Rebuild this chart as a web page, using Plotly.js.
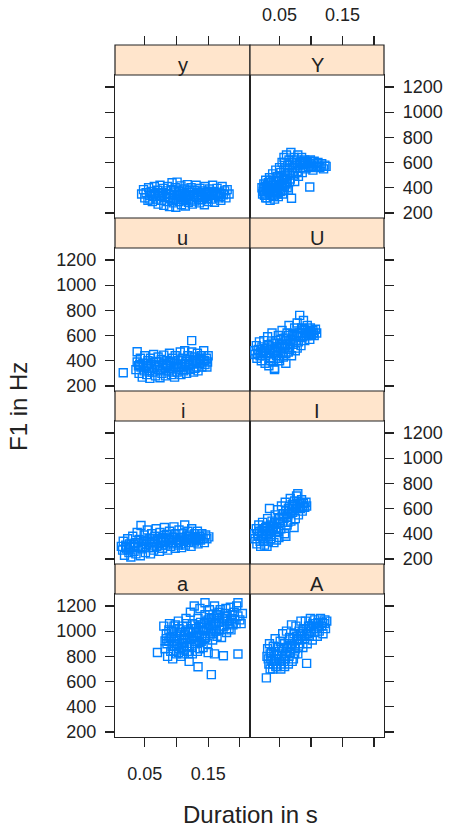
<!DOCTYPE html>
<html>
<head>
<meta charset="utf-8">
<script src="https://cdn.plot.ly/plotly-3.0.1.min.js"></script>
<style>html,body{margin:0;padding:0;background:#fff;}#chart{width:453px;height:828px;}</style>
</head>
<body>
<div id="chart"></div>
<script>
// ---------- data ----------
const panelNames = ["y", "Y", "u", "U", "i", "I", "a", "A"];
const xTickVals = [0.05, 0.10, 0.15, 0.20];
const xTickText = ["0.05", "", "0.15", ""];
const yTickVals = [200, 400, 600, 800, 1000, 1200];
const yTickText = ["200", "400", "600", "800", "1000", "1200"];

const dur_y = [0.045,0.048,0.050,0.052,0.055,0.056,0.058,0.060,0.062,0.063,0.065,0.066,0.068,0.070,0.071,0.073,0.074,0.076,0.078,0.079,0.080,0.082,0.083,0.085,0.086,0.088,0.089,0.090,0.092,0.093,0.095,0.096,0.098,0.099,0.100,0.101,0.103,0.104,0.106,0.107,0.108,0.110,0.111,0.113,0.114,0.116,0.117,0.119,0.120,0.122,0.123,0.125,0.126,0.128,0.129,0.131,0.132,0.134,0.136,0.137,0.139,0.140,0.142,0.144,0.145,0.147,0.148,0.150,0.152,0.153,0.155,0.157,0.158,0.160,0.162,0.164,0.166,0.168,0.170,0.172,0.174,0.176,0.178,0.180,0.183,
  0.061,0.067,0.072,0.077,0.084,0.087,0.091,0.097,0.102,0.105,0.109,0.112,0.118,0.121,0.127,0.133,0.138,0.141,0.146,0.151,0.156,0.161,0.165,0.171,0.058,0.094,0.115,0.135,0.149,0.169];
const f1_y  = [350,385,320,360,300,400,340,370,290,330,410,355,310,380,270,340,420,300,360,395,260,330,375,290,410,350,250,315,385,440,280,345,400,245,320,445,370,290,340,415,265,355,305,390,255,330,425,285,365,310,400,270,345,380,295,420,325,360,280,395,340,305,375,265,410,330,360,290,390,345,310,420,370,285,340,395,320,365,300,410,345,375,320,385,350,
  350,330,360,340,355,325,345,365,335,375,320,350,340,380,330,345,365,325,350,370,340,360,345,355,310,300,300,310,315,330];

const dur_Y = [0.022,0.024,0.025,0.026,0.028,0.029,0.030,0.031,0.033,0.034,0.035,0.036,0.037,0.038,0.039,0.040,0.041,0.042,0.043,0.044,0.045,0.046,0.047,0.048,0.049,0.050,0.051,0.052,0.053,0.054,0.055,0.056,0.057,0.058,0.059,0.060,0.061,0.062,0.063,0.064,0.065,0.066,0.067,0.068,0.069,0.070,0.071,0.072,0.073,0.074,0.075,0.077,0.078,0.079,0.080,0.082,0.083,0.085,0.086,0.088,0.090,0.092,0.094,0.096,0.098,0.099,0.101,0.103,0.105,0.108,0.111,0.114,0.117,0.120,0.124,
  0.023,0.025,0.027,0.028,0.030,0.032,0.033,0.035,0.036,0.038,0.040,0.041,0.043,0.044,0.046,0.047,0.049,0.050,0.052,0.053,0.055,0.057,0.058,0.060,0.062,0.063,0.066,0.058,0.062,0.066,0.070,0.074,0.076,0.081,0.084,0.087,0.091,0.095,0.100,0.104,0.110,0.116,0.122];
const f1_Y  = [400,370,430,340,460,390,320,420,360,480,300,400,440,340,510,380,460,310,420,540,360,490,400,330,450,560,380,520,430,600,350,470,640,410,550,500,660,440,580,380,620,520,470,680,317,560,600,500,640,450,580,620,530,660,490,600,560,640,520,590,620,550,600,570,406,620,580,540,610,570,600,560,590,550,570,
  350,390,410,320,380,440,400,350,460,420,330,400,370,450,420,350,480,410,370,460,420,380,470,430,400,500,450,600,540,580,520,600,560,580,610,560,590,610,560,590,580,570,580];

const dur_u = [0.016,0.038,0.124,0.036,0.038,0.040,0.041,0.043,0.044,0.046,0.047,0.049,0.050,0.052,0.053,0.055,0.056,0.058,0.059,0.061,0.062,0.064,0.065,0.067,0.068,0.070,0.071,0.073,0.074,0.076,0.077,0.079,0.080,0.082,0.083,0.085,0.086,0.088,0.089,0.091,0.092,0.094,0.095,0.097,0.098,0.100,0.101,0.103,0.104,0.106,0.107,0.109,0.110,0.112,0.113,0.115,0.116,0.118,0.119,0.121,0.122,0.124,0.125,0.127,0.128,0.130,0.131,0.133,0.134,0.136,0.137,0.139,0.140,0.142,0.143,0.145,0.147,0.149,0.150,0.148,
  0.042,0.048,0.054,0.060,0.066,0.072,0.078,0.084,0.090,0.096,0.102,0.108,0.114,0.120,0.126,0.132,0.138,0.144,0.057,0.075,0.093,0.111,0.129];
const f1_u  = [305,471,560,330,390,360,300,420,350,270,380,320,440,360,290,400,340,260,420,370,310,450,350,280,395,330,430,360,265,410,300,375,445,340,280,400,360,320,460,385,290,420,350,270,440,375,310,400,345,470,290,420,370,330,480,395,300,440,360,410,330,470,380,310,430,400,350,460,320,420,380,440,350,400,480,370,420,390,440,350,
  370,350,380,340,365,390,350,370,340,390,365,350,380,370,400,390,410,400,310,320,310,320,340];

const dur_U = [0.010,0.011,0.013,0.014,0.016,0.018,0.019,0.021,0.022,0.024,0.025,0.027,0.028,0.030,0.031,0.033,0.034,0.035,0.037,0.038,0.040,0.041,0.042,0.044,0.045,0.047,0.048,0.050,0.051,0.053,0.054,0.056,0.057,0.059,0.060,0.062,0.063,0.065,0.066,0.068,0.069,0.071,0.072,0.074,0.075,0.077,0.078,0.080,0.081,0.082,0.084,0.085,0.087,0.088,0.090,0.091,0.093,0.094,0.096,0.098,0.099,0.101,0.103,0.105,0.107,0.109,0.042,0.060,0.078,
  0.015,0.020,0.026,0.029,0.032,0.036,0.039,0.043,0.046,0.049,0.052,0.055,0.058,0.061,0.064,0.067,0.070,0.073,0.076,0.079,0.083,0.086,0.089,0.092,0.095,0.097,0.100,0.104,0.036,0.048,0.054,0.064];
const f1_U  = [480,450,520,420,490,550,440,400,510,470,560,380,440,500,590,360,460,420,540,620,390,480,340,560,440,510,600,400,470,540,640,430,500,580,460,620,530,680,490,570,440,610,530,660,480,590,700,550,620,760,520,660,590,720,560,640,600,680,620,570,660,610,640,600,650,620,330,380,500,
  460,470,480,460,520,490,510,470,540,500,570,530,510,560,600,540,580,600,560,620,600,620,650,620,640,600,630,620,400,420,460,470];

const dur_i = [0.013,0.015,0.016,0.018,0.020,0.021,0.023,0.025,0.026,0.028,0.030,0.031,0.033,0.035,0.036,0.038,0.040,0.041,0.043,0.044,0.046,0.048,0.049,0.051,0.053,0.054,0.056,0.058,0.059,0.061,0.063,0.064,0.066,0.068,0.069,0.071,0.073,0.074,0.076,0.078,0.079,0.081,0.083,0.084,0.086,0.088,0.089,0.091,0.093,0.094,0.096,0.098,0.099,0.101,0.103,0.104,0.106,0.108,0.109,0.111,0.113,0.114,0.116,0.118,0.119,0.121,0.123,0.124,0.126,0.128,0.129,0.131,0.133,0.134,0.136,0.138,0.140,0.142,0.144,0.146,0.148,0.151,
  0.020,0.027,0.034,0.039,0.045,0.050,0.055,0.060,0.065,0.070,0.075,0.080,0.085,0.090,0.095,0.100,0.105,0.110,0.115,0.120,0.125,0.130,0.135,0.024,0.047,0.062,0.077,0.092,0.107];
const f1_i  = [300,270,340,230,310,280,360,250,320,215,290,380,260,330,240,410,300,355,225,465,280,340,390,250,315,430,290,360,240,400,320,270,380,440,300,350,260,410,330,285,370,450,310,395,270,350,420,300,375,330,455,285,400,350,310,430,370,290,400,340,470,310,380,420,330,360,300,440,375,335,400,350,420,320,380,350,400,365,330,390,360,375,
  290,300,310,330,320,340,350,330,340,360,350,340,360,350,370,330,350,370,350,390,350,370,360,270,300,290,310,320,320];

const dur_I = [0.010,0.011,0.013,0.014,0.016,0.017,0.019,0.020,0.022,0.023,0.025,0.026,0.028,0.029,0.031,0.032,0.034,0.035,0.037,0.038,0.040,0.041,0.043,0.044,0.046,0.047,0.049,0.050,0.052,0.053,0.055,0.056,0.058,0.059,0.061,0.062,0.064,0.065,0.067,0.068,0.070,0.071,0.073,0.074,0.076,0.077,0.079,0.080,0.082,0.083,0.085,0.086,0.088,0.090,0.092,0.093,0.030,0.045,0.060,0.075,
  0.015,0.018,0.021,0.024,0.027,0.030,0.033,0.036,0.039,0.042,0.045,0.048,0.051,0.054,0.057,0.060,0.063,0.066,0.069,0.072,0.075,0.078,0.081,0.084,0.087,0.024,0.036,0.048,0.063];
const f1_I  = [400,360,440,320,380,470,340,300,420,490,360,310,450,400,520,340,600,430,380,500,460,330,550,410,480,590,370,520,440,620,490,560,400,650,530,470,600,560,680,500,630,570,450,660,600,700,718,550,640,600,670,580,640,610,650,620,300,350,380,520,
  400,420,380,440,390,460,420,470,440,490,450,520,490,540,520,580,550,600,580,620,600,640,610,640,620,340,360,420,490];

const dur_a = [0.070,0.082,0.197,0.155,0.134,0.197,0.174,0.145,0.080,0.082,0.084,0.086,0.088,0.089,0.091,0.092,0.094,0.095,0.097,0.098,0.100,0.101,0.103,0.104,0.106,0.107,0.109,0.110,0.112,0.113,0.115,0.116,0.118,0.119,0.121,0.122,0.124,0.125,0.127,0.128,0.130,0.131,0.133,0.134,0.136,0.137,0.139,0.140,0.142,0.143,0.145,0.146,0.148,0.149,0.151,0.152,0.154,0.155,0.157,0.158,0.160,0.161,0.163,0.164,0.166,0.168,0.169,0.171,0.173,0.175,0.177,0.179,0.181,0.183,0.185,0.187,0.189,0.191,0.194,0.197,0.200,0.204,0.150,0.160,0.120,
  0.085,0.090,0.093,0.096,0.099,0.102,0.105,0.108,0.111,0.114,0.117,0.120,0.123,0.126,0.129,0.132,0.135,0.138,0.141,0.144,0.147,0.150,0.153,0.156,0.159,0.162,0.165,0.168,0.172,0.176,0.180,0.184,0.188,0.192,0.092,0.096,0.100,0.104,0.108,0.112,0.116,0.120,0.124,0.128,0.132,0.136,0.140,0.084,0.088,0.095,0.103,0.110,0.117,0.125,0.137,0.144,0.152,0.158,0.163,0.167,0.178,0.186,0.195,0.202];
const f1_a  = [831,923,1226,655,718,819,805,1226,1040,860,980,800,920,1060,840,960,780,1000,880,1050,820,940,1080,860,990,800,910,1040,850,970,1100,880,1010,820,940,1150,870,1060,960,1200,900,1020,840,1100,970,1180,920,1050,870,1000,1130,950,1080,900,1020,1170,980,1100,930,1050,1200,1000,1130,960,1080,1010,1170,950,1100,1040,1140,990,1080,1020,1190,1100,1050,1150,1060,1120,1090,1140,830,820,760,
  900,950,880,920,960,900,940,970,930,1000,950,990,1020,1000,1050,990,1030,1070,1010,1060,1030,1090,1050,1010,1100,1060,1120,1070,1040,1090,1120,1060,1130,1090,1000,1040,880,1020,870,900,1060,880,940,920,950,910,960,940,1010,840,830,820,840,820,860,940,1130,980,1000,1150,1180,1010,1200,1060];

const dur_A = [0.029,0.093,0.030,0.031,0.033,0.034,0.036,0.037,0.039,0.040,0.042,0.043,0.045,0.046,0.048,0.049,0.051,0.052,0.054,0.055,0.057,0.058,0.060,0.061,0.063,0.064,0.066,0.067,0.069,0.070,0.072,0.073,0.075,0.076,0.078,0.079,0.081,0.082,0.084,0.085,0.087,0.088,0.090,0.091,0.093,0.094,0.096,0.097,0.099,0.100,0.102,0.103,0.105,0.106,0.108,0.110,0.111,0.113,0.115,0.117,0.119,0.121,0.123,0.125,
  0.032,0.035,0.038,0.041,0.044,0.047,0.050,0.053,0.056,0.059,0.062,0.065,0.068,0.071,0.074,0.077,0.080,0.083,0.086,0.089,0.092,0.095,0.098,0.101,0.104,0.107,0.112,0.118,0.122,0.044,0.053,0.058,0.065,0.070,0.074,0.080,0.086,0.035,0.040];
const f1_A  = [629,744,800,860,740,900,780,830,700,880,760,940,810,720,870,780,920,700,840,980,760,900,820,1000,870,740,950,830,1050,900,780,980,860,1040,930,820,1000,900,1080,960,870,1020,940,1080,980,900,1040,960,1100,1000,930,1060,990,1090,1020,960,1070,1000,1100,1040,980,1060,1020,1080,
  780,820,760,840,780,820,760,800,860,780,840,880,860,940,900,960,940,980,1000,960,1020,980,1040,1040,1020,1060,1040,1070,1090,720,740,720,800,760,820,870,940,700,740];

const panelDur = [dur_y, dur_Y, dur_u, dur_U, dur_i, dur_I, dur_a, dur_A];
const panelF1  = [f1_y, f1_Y, f1_u, f1_U, f1_i, f1_I, f1_a, f1_A];

// ---------- layout geometry (pixels) ----------
const W = 453, H = 828;
const colX = [[115, 250], [250, 384]];
const rowTop0 = 45, rowH = 173, stripH = 30;
const px = p => p / W;
const py = p => 1 - p / H;

const FONT = "Liberation Sans, Arial, Helvetica, sans-serif";
const INK = "#222222";
const XR = [0.003, 0.216];
const YR = [160, 1295];

const layout = {
  width: W, height: H,
  margin: {l: 0, r: 0, t: 0, b: 0},
  paper_bgcolor: "#fff", plot_bgcolor: "#fff",
  showlegend: false,
  font: {family: FONT, size: 18, color: INK},
  shapes: [], annotations: []
};
const traces = [];

for (let k = 0; k < 8; k++) {
  const row = Math.floor(k / 2), col = k % 2;
  const n = k + 1;
  const stripTop = rowTop0 + row * rowH;
  const panelTop = stripTop + stripH;
  const panelBot = stripTop + rowH;
  const xd = [px(colX[col][0]), px(colX[col][1])];
  const yd = [py(panelBot), py(panelTop)];

  const bottomRow = row === 3;
  layout["xaxis" + n] = {
    domain: xd, range: XR, anchor: "y" + n,
    showline: true, mirror: true, linecolor: INK, linewidth: 1.2,
    showgrid: false, zeroline: false, fixedrange: true,
    ticks: bottomRow ? "outside" : "", ticklen: 9, tickwidth: 1.2, tickcolor: INK,
    tickmode: "array", tickvals: xTickVals, ticktext: xTickText,
    showticklabels: bottomRow && col === 0,
    ticklabelstandoff: 11,
    tickfont: {family: FONT, size: 18, color: INK}
  };
  const showYLab = (col === 0 && (row === 1 || row === 3)) || (col === 1 && (row === 0 || row === 2));
  layout["yaxis" + n] = {
    domain: yd, range: YR, anchor: "x" + n, side: col === 0 ? "left" : "right",
    showline: true, mirror: true, linecolor: INK, linewidth: 1.2,
    showgrid: false, zeroline: false, fixedrange: true,
    ticks: "outside", ticklen: 9, tickwidth: 1.2, tickcolor: INK,
    tickmode: "array", tickvals: yTickVals, ticktext: yTickText,
    showticklabels: showYLab,
    ticklabelstandoff: 5,
    tickfont: {family: FONT, size: 18, color: INK}
  };

  traces.push({
    type: "scatter", mode: "markers",
    x: panelDur[k], y: panelF1[k],
    xaxis: "x" + n, yaxis: "y" + n,
    marker: {symbol: "square-open", size: 8, color: "#0080FF", line: {width: 1.4, color: "#0080FF"}},
    hoverinfo: "skip"
  });

  // strip
  layout.shapes.push({
    type: "rect", xref: "paper", yref: "paper",
    x0: xd[0], x1: xd[1], y0: py(panelTop), y1: py(stripTop),
    fillcolor: "#FFE5CC", line: {color: INK, width: 1.2}
  });
  layout.annotations.push({
    xref: "paper", yref: "paper",
    x: (xd[0] + xd[1]) / 2, y: py(panelTop),
    xanchor: "center", yanchor: "bottom", yshift: -3,
    text: panelNames[k], showarrow: false,
    font: {family: FONT, size: 20, color: INK}
  });
}

// top tick axes (above the top strips)
for (let c = 0; c < 2; c++) {
  const n = 9 + c;
  layout["xaxis" + n] = {
    overlaying: "x" + (c + 1), anchor: "free", position: py(rowTop0), side: "top",
    range: XR, showline: false, showgrid: false, zeroline: false, fixedrange: true,
    ticks: "outside", ticklen: 9, tickwidth: 1.2, tickcolor: INK,
    tickmode: "array", tickvals: xTickVals, ticktext: xTickText,
    showticklabels: c === 1, ticklabelstandoff: 8,
    tickfont: {family: FONT, size: 18, color: INK}
  };
  traces.push({type: "scatter", mode: "markers", x: [], y: [], xaxis: "x" + n, yaxis: "y" + (c + 1), hoverinfo: "skip"});
}

// axis titles
layout.annotations.push({
  xref: "paper", yref: "paper", x: px(250), y: py(814),
  xanchor: "center", yanchor: "middle", showarrow: false,
  text: "Duration in s", font: {family: FONT, size: 24, color: INK}
});
layout.annotations.push({
  xref: "paper", yref: "paper", x: px(19), y: py(407),
  xanchor: "center", yanchor: "middle", showarrow: false, textangle: -90,
  text: "F1 in Hz", font: {family: FONT, size: 24, color: INK}
});

Plotly.newPlot("chart", traces, layout, {staticPlot: true, displayModeBar: false});
</script>
</body>
</html>
